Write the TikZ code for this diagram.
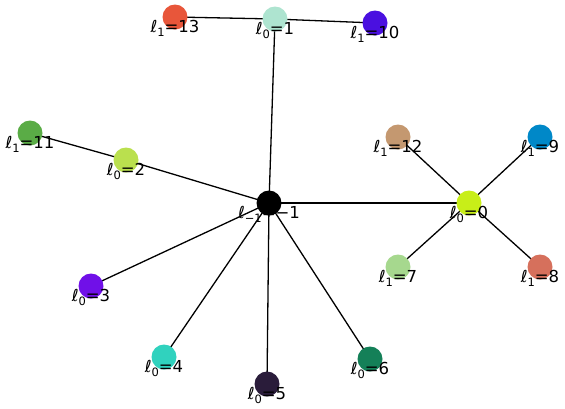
\documentclass[tikz,border=0pt]{standalone}
\usepackage{fontspec}
\setmainfont{DejaVu Sans}
\definecolor{cA}{RGB}{174,228,208}
\definecolor{cB}{RGB}{232,86,58}
\definecolor{cC}{RGB}{74,16,224}
\definecolor{cD}{RGB}{90,172,70}
\definecolor{cE}{RGB}{186,224,78}
\definecolor{cF}{RGB}{200,238,24}
\definecolor{cG}{RGB}{196,152,112}
\definecolor{cH}{RGB}{0,136,200}
\definecolor{cI}{RGB}{166,216,142}
\definecolor{cJ}{RGB}{214,112,92}
\definecolor{cK}{RGB}{112,16,232}
\definecolor{cL}{RGB}{48,210,190}
\definecolor{cM}{RGB}{42,28,58}
\definecolor{cN}{RGB}{20,128,88}
\newcommand{\lbl}[2]{ℓ\raisebox{-0.28em}{\fontsize{11.5}{12}\selectfont #1}=#2}
\tikzset{
  vtx/.style={circle,inner sep=0pt,minimum size=25pt,fill=#1},
  lab/.style={anchor=base,inner sep=0pt,font=\fontsize{16.5}{18}\selectfont},
  edge/.style={draw=black,line width=1.3pt}
}
\begin{document}
\begin{tikzpicture}[x=1pt,y=-1pt]
\useasboundingbox (0,0) rectangle (565,408);
% nodes (as coordinates for edges)
\coordinate (c) at (269,203);
\coordinate (a0) at (469,203);
\coordinate (a1) at (275,19);
\coordinate (a2) at (126,160);
\coordinate (a3) at (91,286);
\coordinate (a4) at (164,357);
\coordinate (a5) at (267,384);
\coordinate (a6) at (370,359);
\coordinate (b7) at (398,267);
\coordinate (b8) at (540,267);
\coordinate (b9) at (540,137);
\coordinate (b10) at (375,23);
\coordinate (b11) at (30,133);
\coordinate (b12) at (398,137);
\coordinate (b13) at (175,17);
% edges
\foreach \t in {a0,a1,a2,a3,a4,a5,a6} \draw[edge] (c) -- (\t);
\draw[edge] (a1) -- (b13);
\draw[edge] (a1) -- (b10);
\draw[edge] (a2) -- (b11);
\foreach \t in {b7,b8,b9,b12} \draw[edge] (a0) -- (\t);
% vertices
\node[vtx=black] (nc) at (c) {};
\node[vtx=cF] (n0) at (a0) {};
\node[vtx=cA] (n1) at (a1) {};
\node[vtx=cE] (n2) at (a2) {};
\node[vtx=cK] (n3) at (a3) {};
\node[vtx=cL] (n4) at (a4) {};
\node[vtx=cM] (n5) at (a5) {};
\node[vtx=cN] (n6) at (a6) {};
\node[vtx=cI] (n7) at (b7) {};
\node[vtx=cJ] (n8) at (b8) {};
\node[vtx=cH] (n9) at (b9) {};
\node[vtx=cC] (n10) at (b10) {};
\node[vtx=cD] (n11) at (b11) {};
\node[vtx=cG] (n12) at (b12) {};
\node[vtx=cB] (n13) at (b13) {};
% labels
\node[lab] (lc) at ([yshift=-15pt]c) {\lbl{−1}{−1}};
\node[lab] (l0) at ([yshift=-15pt]a0) {\lbl{0}{0}};
\node[lab] (l1) at ([yshift=-15pt]a1) {\lbl{0}{1}};
\node[lab] (l2) at ([yshift=-15pt]a2) {\lbl{0}{2}};
\node[lab] (l3) at ([yshift=-15pt]a3) {\lbl{0}{3}};
\node[lab] (l4) at ([yshift=-15pt]a4) {\lbl{0}{4}};
\node[lab] (l5) at ([yshift=-15pt]a5) {\lbl{0}{5}};
\node[lab] (l6) at ([yshift=-15pt]a6) {\lbl{0}{6}};
\node[lab] (l7) at ([yshift=-15pt]b7) {\lbl{1}{7}};
\node[lab] (l8) at ([yshift=-15pt]b8) {\lbl{1}{8}};
\node[lab] (l9) at ([yshift=-15pt]b9) {\lbl{1}{9}};
\node[lab] (l10) at ([yshift=-15pt]b10) {\lbl{1}{10}};
\node[lab] (l11) at ([yshift=-15pt]b11) {\lbl{1}{11}};
\node[lab] (l12) at ([yshift=-15pt]b12) {\lbl{1}{12}};
\node[lab] (l13) at ([yshift=-15pt]b13) {\lbl{1}{13}};
\end{tikzpicture}
\end{document}
